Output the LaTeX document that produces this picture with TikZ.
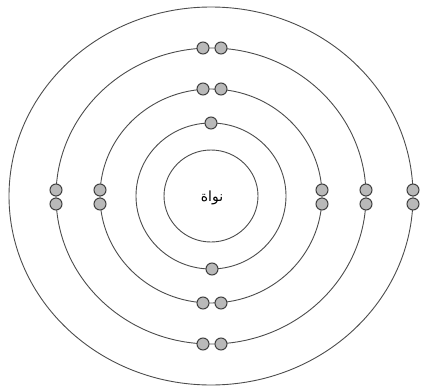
\documentclass[tikz,border=0pt]{standalone}
\usepackage{fontspec}
\newfontfamily\arabicfont[Script=Arabic]{DejaVu Sans}
\TeXXeTstate=1

\begin{document}
\begin{tikzpicture}[x=1pt, y=-1pt,
				orbit/.style={draw=black!70, line width=0.9pt},
				electron/.style={circle, draw=black!75, fill=gray!55, line width=1pt, inner sep=0pt, minimum size=12pt}
				]
				\useasboundingbox (0,0) rectangle (426,391);
				\coordinate (c) at (211,196);
				% shells
				\foreach \rx/\ry in {47/46, 75/73, 111/107, 155/148, 202/189}
					\draw[orbit] (c) ellipse [x radius=\rx, y radius=\ry];
				\node (nucleus) at (212,198) {\arabicfont\fontsize{14}{16}\selectfont\beginR نواة\endR};
				% electrons
				\node[electron] (e1t) at (211,123) {};
				\node[electron] (e1b) at (212,269) {};
				\foreach \y/\n in {89/a, 303/b, 48/c, 344/d} {
					\node[electron] (e\n1) at (203,\y) {};
					\node[electron] (e\n2) at (221,\y) {};
				}
				\foreach \x/\n in {100/e, 322/f, 56/g, 366/h, 413/i} {
					\node[electron] (e\n1) at (\x,190) {};
					\node[electron] (e\n2) at (\x,204) {};
				}
			\end{tikzpicture}
\end{document}
